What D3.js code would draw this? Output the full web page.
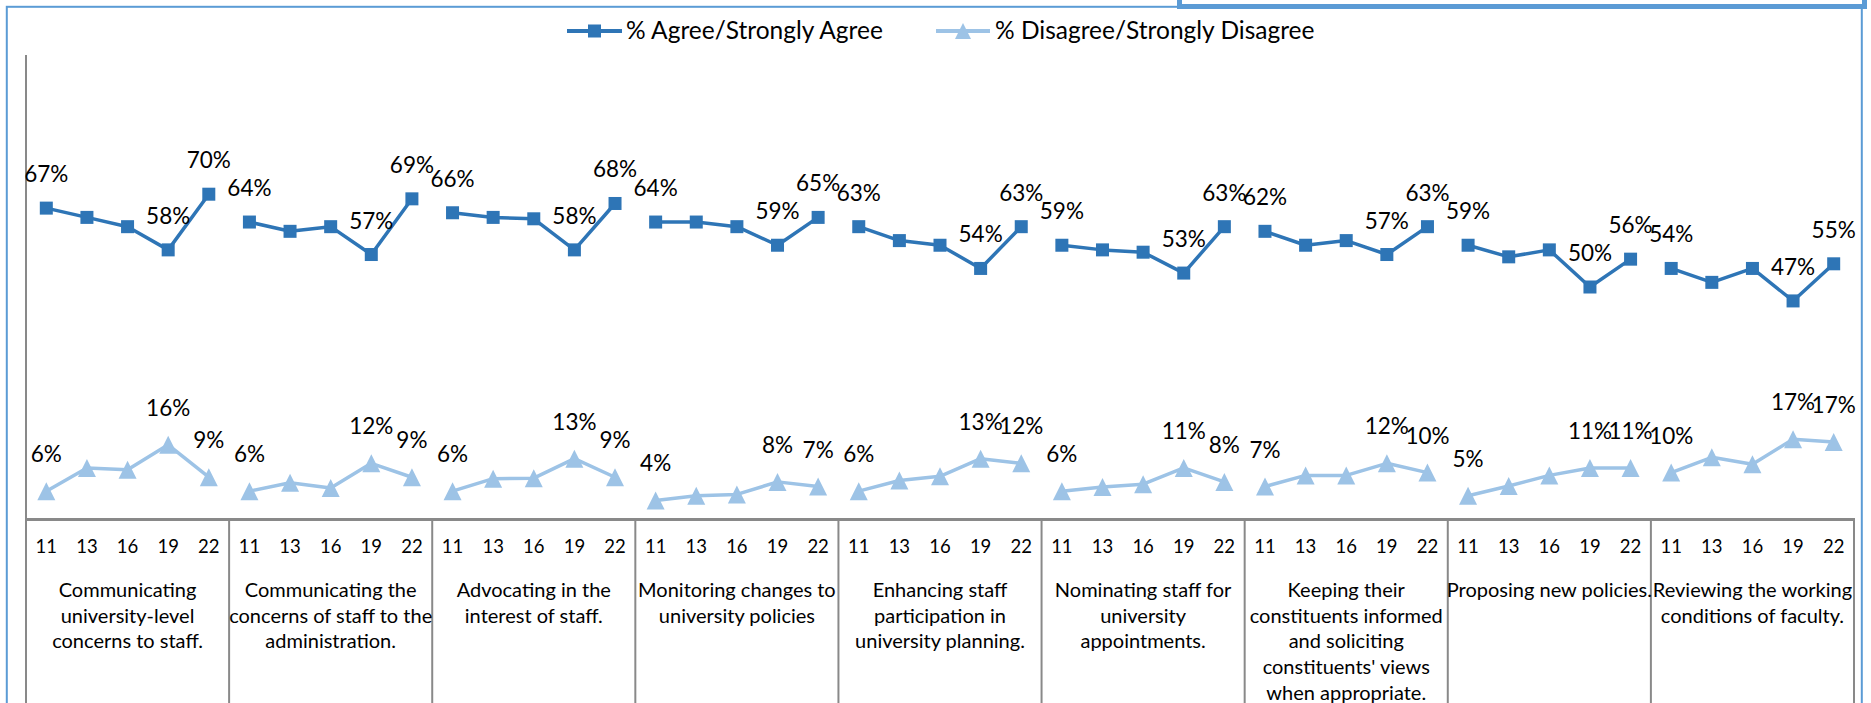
<!DOCTYPE html>
<html>
<head>
<meta charset="utf-8">
<script src="https://cdn.jsdelivr.net/npm/d3@7/dist/d3.min.js"></script>
<style>
  html, body { margin: 0; padding: 0; background: #fff; }
  svg { display: block; }
  text { font-family: Lato, "Open Sans", sans-serif; fill: #000; }
</style>
</head>
<body>
<script>
// ---------------- DATA ----------------
const years = ["11", "13", "16", "19", "22"];

const categories = [
  ["Communicating", "university-level", "concerns to staff."],
  ["Communicating the", "concerns of staff to the", "administration."],
  ["Advocating in the", "interest of staff."],
  ["Monitoring changes to", "university policies"],
  ["Enhancing staff", "participation in", "university planning."],
  ["Nominating staff for", "university", "appointments."],
  ["Keeping their", "constituents informed", "and soliciting", "constituents' views", "when appropriate."],
  ["Proposing new policies."],
  ["Reviewing the working", "conditions of faculty."]
];

const seriesNames = ["% Agree/Strongly Agree", "% Disagree/Strongly Disagree"];

const agree = [
  [0.67, 0.65, 0.63, 0.58, 0.70],
  [0.64, 0.62, 0.63, 0.57, 0.69],
  [0.66, 0.65, 0.647, 0.58, 0.68],
  [0.64, 0.64, 0.63, 0.59, 0.65],
  [0.63, 0.60, 0.59, 0.54, 0.63],
  [0.59, 0.58, 0.575, 0.53, 0.63],
  [0.62, 0.59, 0.60, 0.57, 0.63],
  [0.59, 0.565, 0.58, 0.50, 0.56],
  [0.54, 0.51, 0.54, 0.47, 0.55]
];

const disagree = [
  [0.06, 0.110, 0.106, 0.16, 0.09],
  [0.06, 0.078, 0.067, 0.12, 0.09],
  [0.06, 0.087, 0.088, 0.13, 0.09],
  [0.04, 0.050, 0.053, 0.08, 0.07],
  [0.06, 0.083, 0.092, 0.13, 0.12],
  [0.06, 0.069, 0.075, 0.11, 0.08],
  [0.07, 0.094, 0.094, 0.12, 0.10],
  [0.05, 0.071, 0.094, 0.11, 0.11],
  [0.10, 0.133, 0.118, 0.172, 0.166]
];

// indices (within each category) that carry a data label
const labelledYears = [0, 3, 4];

// ---------------- LAYOUT ----------------
const W = 1871, H = 703;
const plot = { left: 26, right: 1854, top: 55, bottom: 519 };
const colors = { agree: "#2E75B6", disagree: "#9DC3E6", axis: "#898989", frame: "#5B9BD5" };

const svg = d3.select("body").append("svg")
  .attr("width", W).attr("height", H);

svg.append("rect").attr("width", W).attr("height", H).attr("fill", "#fff");

// outer frame
svg.append("rect")
  .attr("x", 6.8).attr("y", 6.8)
  .attr("width", 1855).attr("height", 760)
  .attr("fill", "none").attr("stroke", colors.frame).attr("stroke-width", 2);
// thick box at the top right
svg.append("rect")
  .attr("x", 1179.5).attr("y", -30)
  .attr("width", 685).attr("height", 36.5)
  .attr("fill", "#fff").attr("stroke", colors.frame).attr("stroke-width", 5);

// scales
const catBand = d3.scaleBand()
  .domain(d3.range(categories.length))
  .range([plot.left, plot.right]).padding(0);

const keys = [];
categories.forEach((c, ci) => years.forEach((y, yi) => keys.push(ci + "-" + yi)));
const xBand = d3.scaleBand().domain(keys).range([plot.left, plot.right]).padding(0);
const xPos = (ci, yi) => xBand(ci + "-" + yi) + xBand.bandwidth() / 2;

const yScale = d3.scaleLinear().domain([0, 1]).range([plot.bottom, plot.top]);

// axes lines
svg.append("line")
  .attr("x1", plot.left).attr("x2", plot.left)
  .attr("y1", plot.top).attr("y2", plot.bottom)
  .attr("stroke", colors.axis).attr("stroke-width", 2);

svg.append("line")
  .attr("x1", plot.left - 1).attr("x2", plot.right + 1)
  .attr("y1", plot.bottom + 0.5).attr("y2", plot.bottom + 0.5)
  .attr("stroke", colors.axis).attr("stroke-width", 3);

// category separators
const seps = d3.range(categories.length + 1).map(i =>
  i < categories.length ? catBand(i) : plot.right);
svg.selectAll("line.sep").data(seps).join("line")
  .attr("class", "sep")
  .attr("x1", d => d).attr("x2", d => d)
  .attr("y1", plot.bottom).attr("y2", H + 5)
  .attr("stroke", colors.axis).attr("stroke-width", 2);

// year tick labels
const tickData = [];
categories.forEach((c, ci) => years.forEach((y, yi) => tickData.push({ ci, yi, y })));
svg.selectAll("text.tick").data(tickData).join("text")
  .attr("class", "tick")
  .attr("x", d => xPos(d.ci, d.yi))
  .attr("y", 553)
  .attr("text-anchor", "middle")
  .attr("font-size", 18.5)
  .text(d => d.y);

// category labels
const catG = svg.selectAll("g.cat").data(categories).join("g")
  .attr("class", "cat")
  .attr("transform", (d, i) => `translate(${catBand(i) + catBand.bandwidth() / 2},0)`);
catG.selectAll("text").data(d => d).join("text")
  .attr("x", 0)
  .attr("y", (d, i) => 597 + i * 25.7)
  .attr("text-anchor", "middle")
  .attr("font-size", 20)
  .text(d => d);

// series
const seriesDefs = [
  { name: seriesNames[0], values: agree, color: colors.agree, marker: "square", labelOff: 26 },
  { name: seriesNames[1], values: disagree, color: colors.disagree, marker: "triangle", labelOff: 29 }
];

const line = d3.line().x(d => d.x).y(d => d.y);
const sqSize = 13;
const triPath = (s) => `M0,${-s / 2}L${s / 2},${s / 2}L${-s / 2},${s / 2}Z`;

seriesDefs.forEach(s => {
  const g = svg.append("g");
  s.values.forEach((vals, ci) => {
    const pts = vals.map((v, yi) => ({ x: xPos(ci, yi), y: yScale(v), v, yi }));
    g.append("path")
      .attr("d", line(pts))
      .attr("fill", "none")
      .attr("stroke", s.color)
      .attr("stroke-width", 3.5)
      .attr("stroke-linejoin", "round");
    if (s.marker === "square") {
      g.selectAll(null).data(pts).join("rect")
        .attr("x", d => d.x - sqSize / 2).attr("y", d => d.y - sqSize / 2)
        .attr("width", sqSize).attr("height", sqSize)
        .attr("fill", s.color);
    } else {
      g.selectAll(null).data(pts).join("path")
        .attr("transform", d => `translate(${d.x},${d.y})`)
        .attr("d", triPath(18))
        .attr("fill", s.color);
    }
    g.selectAll(null).data(pts.filter(p => labelledYears.includes(p.yi))).join("text")
      .attr("x", d => d.x)
      .attr("y", d => d.y - s.labelOff)
      .attr("text-anchor", "middle")
      .attr("font-size", 22.5)
      .text(d => Math.round(d.v * 100) + "%");
  });
});

// legend
const legendItems = [
  { name: seriesNames[0], color: colors.agree, marker: "square", x1: 567, x2: 622, tx: 626 },
  { name: seriesNames[1], color: colors.disagree, marker: "triangle", x1: 936, x2: 990, tx: 995 }
];
const lg = svg.selectAll("g.legend").data(legendItems).join("g").attr("class", "legend");
lg.append("line")
  .attr("x1", d => d.x1).attr("x2", d => d.x2)
  .attr("y1", 31).attr("y2", 31)
  .attr("stroke", d => d.color).attr("stroke-width", 4);
lg.each(function (d) {
  const cx = (d.x1 + d.x2) / 2;
  if (d.marker === "square") {
    d3.select(this).append("rect")
      .attr("x", cx - 6.5).attr("y", 31 - 6.5).attr("width", 13).attr("height", 13)
      .attr("fill", d.color);
  } else {
    d3.select(this).append("path")
      .attr("transform", `translate(${cx},${31})`)
      .attr("d", triPath(16)).attr("fill", d.color);
  }
});
lg.append("text")
  .attr("x", d => d.tx).attr("y", 39)
  .attr("font-size", 24.5)
  .text(d => d.name);
</script>
</body>
</html>
